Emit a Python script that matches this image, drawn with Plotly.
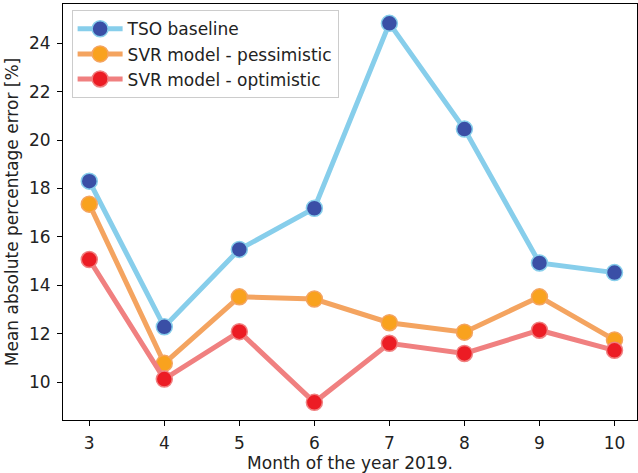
import plotly.graph_objects as go

months = [3, 4, 5, 6, 7, 8, 9, 10]
tso_baseline = [18.3, 12.28, 15.48, 17.18, 24.82, 20.45, 14.92, 14.52]
svr_pessimistic = [17.35, 10.77, 13.52, 13.43, 12.45, 12.06, 13.52, 11.74]
svr_optimistic = [15.06, 10.12, 12.08, 9.16, 11.6, 11.18, 12.14, 11.31]

series = [
    ("TSO baseline", tso_baseline, "#87CEEB", "#3A4FA6"),
    ("SVR model - pessimistic", svr_pessimistic, "#F4A460", "#F9A21E"),
    ("SVR model - optimistic", svr_optimistic, "#F08080", "#EC1C24"),
]

fig = go.Figure()
for name, values, line_color, marker_color in series:
    fig.add_trace(go.Scatter(
        x=months, y=values, name=name, mode="lines+markers",
        line=dict(color=line_color, width=5),
        marker=dict(size=16, color=marker_color,
                    line=dict(color=line_color, width=1.5)),
    ))

text_font = dict(family="DejaVu Sans", size=17, color="#222")

axis_common = dict(
    showline=True, linecolor="black", linewidth=1, mirror=True,
    ticks="outside", ticklen=5, tickcolor="black", tickwidth=1,
    ticklabelstandoff=3,
    showgrid=False, zeroline=False,
    tickfont=text_font, title_font=text_font,
)

fig.update_xaxes(range=[2.65, 10.3], tickvals=months,
                 title_text="Month of the year 2019.", title_standoff=3,
                 **axis_common)
fig.update_yaxes(range=[8.43, 25.62], tickvals=[10, 12, 14, 16, 18, 20, 22, 24],
                 title_text="Mean absolute percentage error [%]", title_standoff=6,
                 **axis_common)

fig.update_layout(
    width=638, height=473,
    margin=dict(l=63, r=1, t=4, b=53),
    plot_bgcolor="white", paper_bgcolor="white",
    font=dict(family="DejaVu Sans", color="#222"),
    legend=dict(
        x=0.015, y=0.985, xanchor="left", yanchor="top",
        bgcolor="rgba(255,255,255,0.8)", bordercolor="#cccccc", borderwidth=1,
        font=dict(family="DejaVu Sans", size=17, color="#222"),
        itemsizing="trace", itemwidth=45, tracegroupgap=0,
    ),
    showlegend=True,
)

fig.write_html("out.html")
